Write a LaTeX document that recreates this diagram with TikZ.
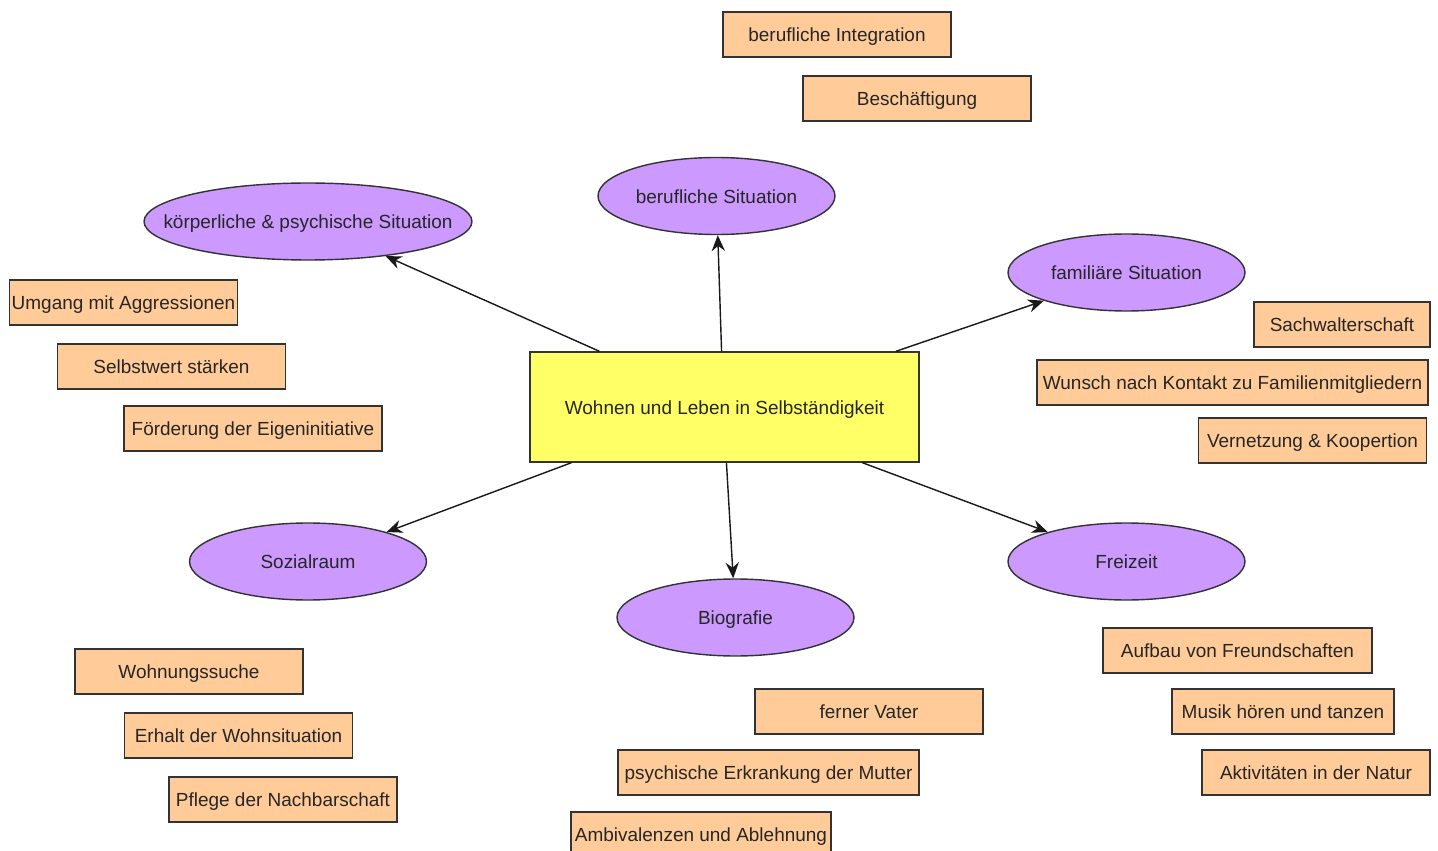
\documentclass[tikz,border=0pt]{standalone}
\usepackage{fontspec}
\setmainfont{Liberation Sans}
\usetikzlibrary{shapes.geometric, arrows.meta}
\definecolor{topicpurple}{HTML}{CC99FF}
\definecolor{goalorange}{HTML}{FFCC99}
\definecolor{mainyellow}{HTML}{FFFF66}

\begin{document}
\begin{tikzpicture}[
  x=0.02cm, y=-0.02cm,
  every node/.style={font=\fontsize{10.8}{13}\selectfont, text=black!85, text height=1.85ex, text depth=0.3ex},
  mainbox/.style={
    rectangle,
    draw=black!80,
    line width=0.8pt,
    fill=mainyellow,
    minimum width=7.78cm,
    minimum height=2.2cm,
    inner sep=0pt
  },
  topic/.style={
    ellipse,
    draw=black!80,
    line width=0.8pt,
    fill=topicpurple,
    minimum width=4.74cm,
    minimum height=1.54cm,
    inner sep=0pt
  },
  goal/.style={
    rectangle,
    draw=black!80,
    line width=0.8pt,
    fill=goalorange,
    minimum width=4.56cm,
    minimum height=0.9cm,
    inner sep=0pt
  },
  arrow/.style={-{Stealth[length=9pt,width=7.5pt]}, line width=0.8pt, black!90}
]
  \useasboundingbox (0,0) rectangle (1438,851);

  \node[mainbox] (main) at (724.5,407) {Wohnen und Leben in Selbständigkeit};

  \node[topic, minimum width=6.56cm, label=center:{körperliche \& psychische Situation}] (koerper) at (308,221.5) {};
  \node[topic] (beruf) at (716.5,196) {berufliche Situation};
  \node[topic] (familie) at (1126.5,272.5) {familiäre Situation};
  \node[topic] (sozial) at (308,561.5) {Sozialraum};
  \node[topic] (bio) at (735.5,617.5) {Biografie};
  \node[topic] (frei) at (1126.5,561.5) {Freizeit};

  \node[goal] (integration) at (837,34.5) {berufliche Integration};
  \node[goal] (beschaeft) at (917,98.5) {Beschäftigung};

  \node[goal] (aggr) at (123.5,302.5) {Umgang mit Aggressionen};
  \node[goal] (selbstwert) at (171.5,366.5) {Selbstwert stärken};
  \node[goal, minimum width=5.16cm] (eigen) at (253,428.5) {Förderung der Eigeninitiative};

  \node[goal, minimum width=3.52cm] (sachwalter) at (1342,324.5) {Sachwalterschaft};
  \node[goal, minimum width=7.82cm] (kontakt) at (1232.5,382.5) {Wunsch nach Kontakt zu Familienmitgliedern};
  \node[goal] (vernetz) at (1312.5,440.5) {Vernetzung \& Koopertion};

  \node[goal] (wohnsuche) at (189,671.5) {Wohnungssuche};
  \node[goal] (erhalt) at (238.5,735.5) {Erhalt der Wohnsituation};
  \node[goal] (nachbar) at (283,799.5) {Pflege der Nachbarschaft};

  \node[goal] (vater) at (869,711.5) {ferner Vater};
  \node[goal, minimum width=6.02cm] (mutter) at (768.5,772.5) {psychische Erkrankung der Mutter};
  \node[goal, minimum width=5.2cm] (ambi) at (701,834.5) {Ambivalenzen und Ablehnung};

  \node[goal, minimum width=5.38cm] (freunde) at (1237.5,650.5) {Aufbau von Freundschaften};
  \node[goal, minimum width=4.44cm] (musik) at (1283,711.5) {Musik hören und tanzen};
  \node[goal] (natur) at (1316,772.5) {Aktivitäten in der Natur};

  \draw[arrow] (main.156) -- (koerper);
  \draw[arrow] (main.93.5) -- (beruf);
  \draw[arrow] (main.18.7) -- (familie);
  \draw[arrow] (main.200.5) -- (sozial);
  \draw[arrow] (main.272.5) -- (bio);
  \draw[arrow] (main.338.7) -- (frei);
\end{tikzpicture}
\end{document}
